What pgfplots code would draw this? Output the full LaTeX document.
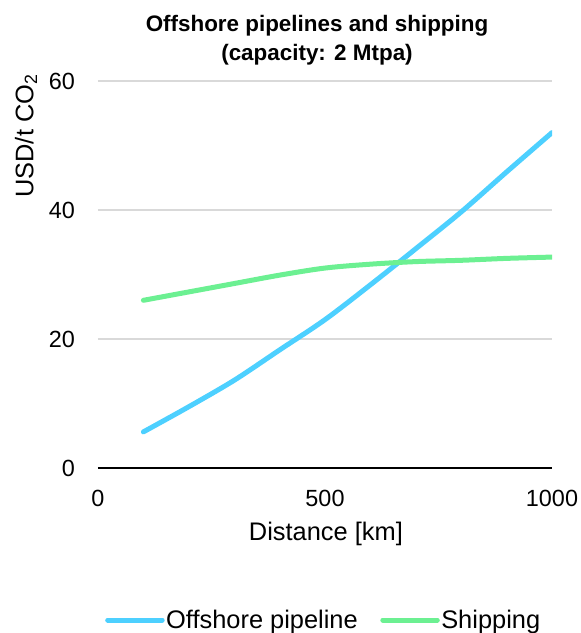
\documentclass[border=0pt]{standalone}
\usepackage{fontspec}
\setmainfont{Liberation Sans}
\usepackage{pgfplots}
\pgfplotsset{compat=1.18}
\definecolor{pipeblue}{RGB}{77,208,255}
\definecolor{shipgreen}{RGB}{108,240,146}
\definecolor{gridgray}{RGB}{217,217,217}
\begin{document}
\begin{tikzpicture}
\path[use as bounding box] (-98bp,-165bp) rectangle (483bp,468bp);
\begin{axis}[
  at={(0,0)}, anchor=south west,
  scale only axis,
  width=454bp, height=387bp,
  xmin=0, xmax=1000, ymin=0, ymax=60,
  axis line style={draw=none},
  tick style={draw=none},
  major tick length=0pt,
  xtick={0,500,1000},
  ytick={20,40,60},
  extra y ticks={0},
  extra y tick style={grid style={black, line width=2.5bp}},
  ymajorgrids,
  grid style={gridgray, line width=1.5bp},
  /pgf/number format/assume math mode=true,
  /pgf/number format/set thousands separator={},
  ticklabel style={font=\fontsize{23.5}{28}\selectfont, inner sep=0pt},
  xticklabel style={anchor=center, yshift=-30bp},
  yticklabel style={anchor=east, xshift=-23bp},
  title={Offshore pipelines and shipping\\(capacity: 2 Mtpa)},
  title style={at={(axis description cs:0,1)}, anchor=center, xshift=219bp, yshift=35bp, align=center, font=\bfseries\fontsize{22.5}{29}\selectfont, inner sep=0pt},
  xlabel={Distance [km]},
  xlabel style={at={(axis description cs:0.502,-0.17)}, anchor=center, font=\fontsize{25.5}{28}\selectfont, inner sep=0pt},
  ylabel={USD/t CO\textsubscript{2}},
  ylabel style={at={(axis description cs:-0.1586,0.8579)}, anchor=center, font=\fontsize{25.5}{28}\selectfont, inner sep=0pt},
  legend columns=2,
  legend style={at={(axis description cs:0,0)}, anchor=west, xshift=7bp, yshift=-152bp, draw=none, fill=none, inner sep=0pt,
    font=\fontsize{25.5}{28}\selectfont,
    nodes={inner sep=1.5bp},
    /tikz/every even column/.append style={column sep=21bp}},
  legend image code/.code={\draw[#1, line width=5bp, line cap=round] (1.5bp,0bp) -- (56bp,0bp);},
]
\addplot[pipeblue, line width=5bp, line cap=round, smooth] coordinates {
(100,5.6) (200,9.5) (300,13.6) (400,18.3) (500,23.0) (600,28.4) (700,34.0) (800,39.7) (900,45.9) (1000,52.0)};
\addlegendentry{Offshore pipeline}
\addplot[shipgreen, line width=5bp, line cap=round, smooth] coordinates {
(100,26.0) (200,27.3) (300,28.6) (400,29.9) (500,31.0) (600,31.6) (700,32.0) (800,32.2) (900,32.5) (1000,32.7)};
\addlegendentry{Shipping}
\end{axis}
\end{tikzpicture}
\end{document}
